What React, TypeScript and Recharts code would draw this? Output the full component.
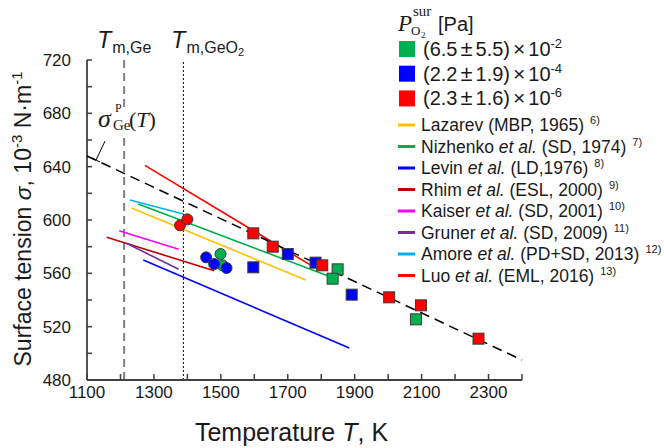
import React from 'react'
import { ScatterChart, Scatter, XAxis, YAxis, ReferenceLine, ReferenceDot } from 'recharts'

type Pt = { T: number; s: number }

// axes
const X_TICKS = [1100, 1200, 1300, 1400, 1500, 1600, 1700, 1800, 1900, 2000, 2100, 2200, 2300, 2400]
const X_LABELS = [1100, 1300, 1500, 1700, 1900, 2100, 2300]
const Y_TICKS = [480, 500, 520, 540, 560, 580, 600, 620, 640, 660, 680, 700, 720]
const Y_LABELS = [480, 520, 560, 600, 640, 680, 720]

const T_MELT_GE = 1211
const T_MELT_GEO2 = 1388

// sigma_Ge^P(T) fit, dashed
const SIGMA_GE_FIT: Pt[] = [
  { T: 1100, s: 648 },
  { T: 2400, s: 495 },
]
const SIGMA_LABEL_AT: Pt = { T: 1127, s: 645 }

// this work, squares
const GREEN_SQUARES: Pt[] = [
  { T: 1849, s: 563 },
  { T: 1834, s: 556 },
  { T: 2083, s: 525.5 },
]
const BLUE_SQUARES: Pt[] = [
  { T: 1597, s: 564.5 },
  { T: 1700, s: 574.5 },
  { T: 1783, s: 568 },
  { T: 1891, s: 544 },
]
const RED_SQUARES: Pt[] = [
  { T: 1597, s: 590 },
  { T: 1655, s: 580 },
  { T: 1803, s: 566 },
  { T: 2003, s: 542 },
  { T: 2098, s: 536 },
  { T: 2270, s: 511 },
]
// this work, circles
const GREEN_CIRCLES: Pt[] = [
  { T: 1499, s: 574.5 },
  { T: 1505, s: 566 },
]
const BLUE_CIRCLES: Pt[] = [
  { T: 1456, s: 572 },
  { T: 1480, s: 567 },
  { T: 1517, s: 564 },
]
const RED_CIRCLES: Pt[] = [
  { T: 1378, s: 596 },
  { T: 1400, s: 600.5 },
]

// literature fits
const LAZAREV: Pt[] = [{ T: 1233, s: 609 }, { T: 1754, s: 555 }]
const NIZHENKO: Pt[] = [{ T: 1253, s: 612 }, { T: 1821, s: 558 }]
const LEVIN: Pt[] = [{ T: 1268, s: 570 }, { T: 1884, s: 504 }]
const RHIM: Pt[] = [{ T: 1159, s: 587 }, { T: 1480, s: 562 }]
const KAISER: Pt[] = [{ T: 1196, s: 592 }, { T: 1374, s: 578 }]
const GRUNER: Pt[] = [{ T: 1218, s: 582.5 }, { T: 1374, s: 563 }]
const AMORE: Pt[] = [{ T: 1228, s: 615 }, { T: 1388, s: 604.5 }]
const LUO: Pt[] = [{ T: 1273, s: 641 }, { T: 1776, s: 565 }]

const PO2_LEVELS = [
  { lo: '(6.5', hi: '5.5)', exp: '-2', color: '#00B050', squares: GREEN_SQUARES, circles: GREEN_CIRCLES },
  { lo: '(2.2', hi: '1.9)', exp: '-4', color: '#0000FF', squares: BLUE_SQUARES, circles: BLUE_CIRCLES },
  { lo: '(2.3', hi: '1.6)', exp: '-6', color: '#FF0000', squares: RED_SQUARES, circles: RED_CIRCLES },
]

const REFS = [
  { author: 'Lazarev', etal: false, detail: ' (MBP, 1965)', ref: '6)', color: '#FFC000', data: LAZAREV },
  { author: 'Nizhenko', etal: true, detail: ' (SD, 1974)', ref: '7)', color: '#00B050', data: NIZHENKO },
  { author: 'Levin', etal: true, detail: ' (LD,1976)', ref: '8)', color: '#0000FF', data: LEVIN },
  { author: 'Rhim', etal: true, detail: ' (ESL, 2000)', ref: '9)', color: '#C00000', data: RHIM },
  { author: 'Kaiser', etal: true, detail: ' (SD, 2001)', ref: '10)', color: '#FF00FF', data: KAISER },
  { author: 'Gruner', etal: true, detail: ' (SD, 2009)', ref: '11)', color: '#7030A0', data: GRUNER },
  { author: 'Amore', etal: true, detail: ' (PD+SD, 2013)', ref: '12)', color: '#00B0F0', data: AMORE },
  { author: 'Luo', etal: true, detail: ' (EML, 2016)', ref: '13)', color: '#FF0000', data: LUO },
]

const AXIS = '#404040'
const TEXT = '#1a1a1a'
const SANS = '"Liberation Sans", Arial, sans-serif'
const SERIF = '"Liberation Serif", "Times New Roman", serif'

function XTick({ x, y, payload }: any) {
  const v = payload.value
  return (
    <g>
      <line x1={x} x2={x} y1={y} y2={y - 6} stroke={AXIS} strokeWidth={1.5} />
      {X_LABELS.includes(v) && (
        <text x={x} y={y + 18} textAnchor="middle" fontSize={17} fill={TEXT} fontFamily={SANS}>
          {v}
        </text>
      )}
    </g>
  )
}

function YTick({ x, y, payload }: any) {
  const v = payload.value
  return (
    <g>
      <line x1={x} x2={x + 5} y1={y} y2={y} stroke={AXIS} strokeWidth={1.5} />
      {Y_LABELS.includes(v) && (
        <text x={x - 16} y={y + 6} textAnchor="end" fontSize={17} fill={TEXT} fontFamily={SANS}>
          {v}
        </text>
      )}
    </g>
  )
}

function XTitle({ viewBox }: any) {
  const cx = viewBox.x + viewBox.width / 2 - 13
  return (
    <text x={cx} y={viewBox.y + 61} textAnchor="middle" fontSize={25} fill={TEXT} fontFamily={SANS}>
      Temperature <tspan fontStyle="italic">T</tspan>, K
    </text>
  )
}

function YTitle({ viewBox }: any) {
  const cx = 31
  const cy = viewBox.y + viewBox.height / 2 - 1
  return (
    <text
      x={cx}
      y={cy}
      transform={`rotate(-90 ${cx} ${cy})`}
      textAnchor="middle"
      fontSize={23}
      fill={TEXT}
      fontFamily={SANS}
    >
      Surface tension <tspan fontStyle="italic">{'\u03C3'}</tspan>, 10
      <tspan fontSize={15} dy={-9}>-3</tspan>
      <tspan dy={9}> N{'\u00B7'}m</tspan>
      <tspan fontSize={15} dy={-9}>-1</tspan>
    </text>
  )
}

function MeltLabel({ viewBox, sub, sub2, dx }: any) {
  const x = viewBox.x + dx
  return (
    <text x={x} y={viewBox.y - 12} fontSize={23} fill={TEXT} fontFamily={SANS}>
      <tspan fontStyle="italic">T</tspan>
      <tspan fontSize={16} dx={1} dy={5}>{sub}</tspan>
      {sub2 && <tspan fontSize={11} dy={3}>{sub2}</tspan>}
    </text>
  )
}

function SigmaLabel({ cx, cy }: any) {
  // leader from the fit line up to the label; white box hides the melt line
  return (
    <g>
      <rect x={cx + 2} y={cy - 53} width={58} height={29} fill="#fff" />
      <line x1={cx} y1={cy} x2={cx + 9} y2={cy - 19} stroke="#000" strokeWidth={1} />
      <line x1={cx - 4} y1={cy - 2} x2={cx + 4} y2={cy + 2} stroke="#000" strokeWidth={1} />
      <text x={cx + 2} y={cy - 33} fontSize={26} fontStyle="italic" fill={TEXT} fontFamily={SERIF}>
        {'\u03C3'}
      </text>
      <text x={cx + 19} y={cy - 48} fontSize={12} fill={TEXT} fontFamily={SERIF}>P</text>
      <text x={cx + 17} y={cy - 30} fontSize={15} fill={TEXT} fontFamily={SERIF}>Ge</text>
      <text x={cx + 33} y={cy - 33} fontSize={22} fill={TEXT} fontFamily={SERIF}>
        (<tspan fontStyle="italic">T</tspan>)
      </text>
    </g>
  )
}

const Empty = () => <g />

function squareShape(color: string) {
  return (p: any) => (
    <rect x={p.cx - 5.5} y={p.cy - 5.5} width={11} height={11} fill={color} stroke="#3a3a3a" strokeWidth={1} />
  )
}

function circleShape(color: string) {
  return (p: any) => <circle cx={p.cx} cy={p.cy} r={5.5} fill={color} stroke="#3a3a3a" strokeWidth={1} />
}

function LegendBox() {
  return (
    <svg
      width={274}
      height={287}
      style={{ position: 'absolute', left: 390, top: 0, background: '#fff' }}
    >
      <text x={8} y={31} fontSize={23} fontStyle="italic" fill={TEXT} fontFamily={SERIF}>P</text>
      <text x={23} y={16} fontSize={15} fill={TEXT} fontFamily={SERIF}>sur</text>
      <text x={21} y={35} fontSize={13} fill={TEXT} fontFamily={SERIF}>O</text>
      <text x={31} y={37.5} fontSize={9} fill={TEXT} fontFamily={SERIF}>2</text>
      <text x={48} y={31} fontSize={20} fill={TEXT} fontFamily={SANS}>[Pa]</text>
      {PO2_LEVELS.map((lv, i) => {
        const cy = 49 + i * 24.7
        return (
          <g key={lv.exp}>
            <rect x={9} y={cy - 8} width={16} height={16} fill={lv.color} />
            <text x={33} y={cy + 7} fontSize={20} fill={TEXT} fontFamily={SANS}>
              {lv.lo}
              <tspan fontSize={22} dx={3}>{'\u00B1'}</tspan>
              <tspan dx={3}>{lv.hi}</tspan>
              <tspan fontSize={21} dx={3}>{'\u00D7'}</tspan>
              <tspan dx={3}>10</tspan>
              <tspan fontSize={13} dy={-8}>{lv.exp}</tspan>
            </text>
          </g>
        )
      })}
      {REFS.map((r, i) => {
        const cy = 125 + i * 21.5
        return (
          <g key={r.author}>
            <line x1={8} x2={25} y1={cy} y2={cy} stroke={r.color} strokeWidth={3} />
            <text x={31} y={cy + 6} fontSize={17.5} fill={TEXT} fontFamily={SANS}>
              {r.author}
              {r.etal && (
                <>
                  {' '}
                  <tspan fontStyle="italic">et al.</tspan>
                </>
              )}
              {r.detail}
              <tspan fontSize={11} dx={6} dy={-7}>{r.ref}</tspan>
            </text>
          </g>
        )
      })}
    </svg>
  )
}

export default function App() {
  return (
    <div style={{ position: 'absolute', left: 0, top: 0, width: 664, height: 448, background: '#fff', fontFamily: SANS }}>
      <ScatterChart width={664} height={448} margin={{ top: 60, right: 142, bottom: 38, left: 47 }}>
        <XAxis
          dataKey="T"
          type="number"
          domain={[1100, 2400]}
          ticks={X_TICKS}
          interval={0}
          tick={<XTick />}
          tickLine={false}
          tickSize={0}
          tickMargin={0}
          height={30}
          axisLine={{ stroke: AXIS, strokeWidth: 1.8 }}
          label={<XTitle />}
        />
        <XAxis
          xAxisId="top"
          orientation="top"
          type="number"
          domain={[1100, 2400]}
          height={0}
          tick={false}
          tickLine={false}
          axisLine={{ stroke: '#595959', strokeWidth: 1.5 }}
        />
        <YAxis
          dataKey="s"
          type="number"
          domain={[480, 720]}
          ticks={Y_TICKS}
          interval={0}
          tick={<YTick />}
          tickLine={false}
          tickSize={0}
          tickMargin={0}
          width={40}
          axisLine={{ stroke: AXIS, strokeWidth: 1.8 }}
          label={<YTitle />}
        />
        <YAxis
          yAxisId="right"
          orientation="right"
          type="number"
          domain={[480, 720]}
          width={0}
          tick={false}
          tickLine={false}
          axisLine={{ stroke: AXIS, strokeWidth: 1.5 }}
        />
        <ReferenceLine
          x={T_MELT_GE}
          stroke="#7f7f7f"
          strokeWidth={2}
          strokeDasharray="8 5"
          label={<MeltLabel sub="m,Ge" dx={-27} />}
        />
        <ReferenceLine
          x={T_MELT_GEO2}
          stroke="#000"
          strokeWidth={1}
          strokeDasharray="2 2"
          label={<MeltLabel sub="m,GeO" sub2="2" dx={-12} />}
        />
        {REFS.map((r) => (
          <Scatter
            key={r.author}
            name={r.author}
            data={r.data}
            line={{ stroke: r.color, strokeWidth: 1.6 }}
            shape={Empty}
            isAnimationActive={false}
          />
        ))}
        <Scatter
          name="sigma fit"
          data={SIGMA_GE_FIT}
          line={{ stroke: '#000', strokeWidth: 1.5, strokeDasharray: '10 6' }}
          shape={Empty}
          isAnimationActive={false}
        />
        {PO2_LEVELS.map((lv) => (
          <Scatter
            key={'c' + lv.exp}
            data={lv.circles}
            shape={circleShape(lv.color)}
            isAnimationActive={false}
          />
        ))}
        {PO2_LEVELS.map((lv) => (
          <Scatter
            key={'s' + lv.exp}
            data={lv.squares}
            shape={squareShape(lv.color)}
            isAnimationActive={false}
          />
        ))}
        <ReferenceDot x={SIGMA_LABEL_AT.T} y={SIGMA_LABEL_AT.s} shape={<SigmaLabel />} />
      </ScatterChart>
      <LegendBox />
    </div>
  )
}
